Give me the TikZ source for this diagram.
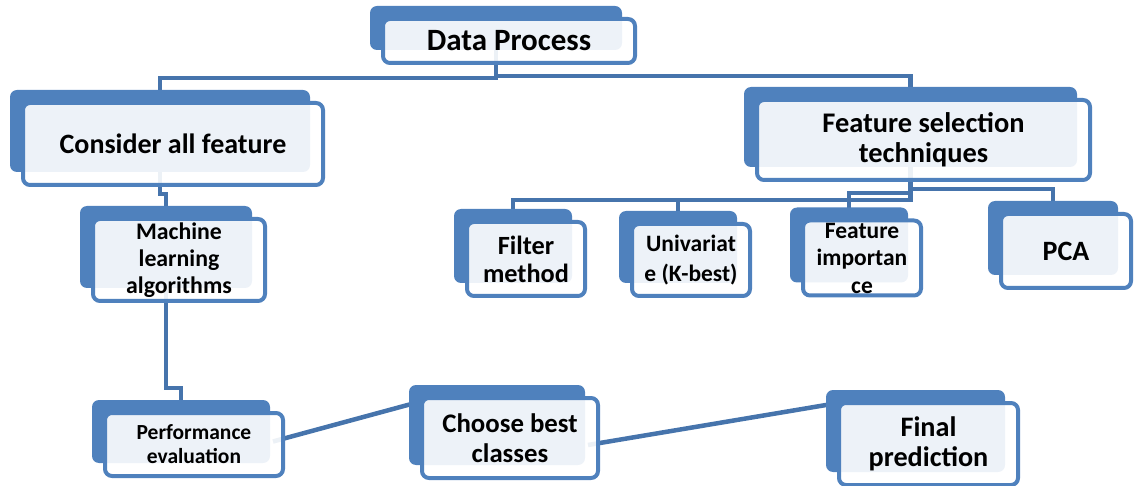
\documentclass[tikz,border=0pt]{standalone}
\usepackage{fontspec}
\setmainfont{Carlito}
\usepackage{tikz}
\usetikzlibrary{positioning,shadows,backgrounds}
\definecolor{boxblue}{HTML}{4F81BD}
\definecolor{linkblue}{HTML}{4674AC}

\begin{document}
\begin{tikzpicture}[x=1pt,y=-1pt]
	\tikzstyle{procbox}=[rectangle, rounded corners=7pt, draw=boxblue, line width=4pt, fill=white, fill opacity=0.9, text opacity=1, align=center, inner sep=0pt, copy shadow={shadow xshift=-13pt, shadow yshift=13pt, fill=boxblue, draw=none, fill opacity=1}]
	\tikzstyle{link}=[draw=linkblue, line width=4.5pt]
	\useasboundingbox (0,0) rectangle (1135,486);
		% top level
		\node[procbox, minimum width=252pt, minimum height=44pt, font=\fontsize{31}{32}\selectfont\bfseries] (dp) at (509,41) {Data Process};
		\node[procbox, minimum width=300pt, minimum height=82pt, font=\fontsize{28}{30}\selectfont\bfseries] (cons) at (173,144) {Consider all feature};
		\node[procbox, minimum width=333pt, minimum height=80pt, font=\fontsize{28.4}{30.5}\selectfont\bfseries] (fst) at (923.5,140) {Feature selection\\techniques};
		% left branch
		\node[procbox, minimum width=172pt, minimum height=82pt, font=\fontsize{23.8}{27}\selectfont\bfseries] (mla) at (179,260) {Machine\\learning\\algorithms};
		\node[procbox, minimum width=178pt, minimum height=63pt, font=\fontsize{21.5}{24}\selectfont\bfseries] (perf) at (194,444.5) {Performance\\evaluation};
		% selection techniques
		\node[procbox, minimum width=118pt, minimum height=74pt, font=\fontsize{26.3}{28}\selectfont\bfseries] (filter) at (526,259) {Filter\\method};
		\node[procbox, minimum width=118pt, minimum height=72pt, font=\fontsize{23.5}{30}\selectfont\bfseries] (univ) at (691,260) {Univariat\\e (K-best)};
		\node[procbox, minimum width=118pt, minimum height=75pt, inner ysep=-4pt, font=\fontsize{23.5}{27.5}\selectfont\bfseries] (featimp) at (862,258) {Feature\\importan\\ce};
		\node[procbox, minimum width=130pt, minimum height=74pt, font=\fontsize{28}{30}\selectfont\bfseries] (pca) at (1066,251) {PCA};
		% bottom row
		\node[procbox, minimum width=176pt, minimum height=80pt, font=\fontsize{26.8}{30}\selectfont\bfseries] (choose) at (510,438) {Choose best\\classes};
		\node[procbox, minimum width=179pt, minimum height=82pt, font=\fontsize{28.2}{30}\selectfont\bfseries] (final) at (928.5,444) {Final\\prediction};
		% centres of the back plates
		\foreach \n in {dp,cons,fst,mla,perf,filter,univ,featimp,pca}
			\coordinate (\n-b) at ([xshift=-13pt,yshift=13pt]\n.center);
		\begin{scope}[on background layer]
			\draw[link] (dp-b) -- ++(0,50) -| (cons-b);
			\draw[link] (dp-b) -- ++(0,48) -| (fst-b);
			\draw[link] (cons-b) -- ++(0,63) -| (mla-b);
			\draw[link] (mla-b) -- ++(0,141) -| (perf-b);
			\draw[link] (fst-b) -- ++(0,73) -| (filter-b);
			\draw[link] (fst-b) -- ++(0,73) -| (univ-b);
			\draw[link] (fst-b) -- ++(0,66) -| (featimp-b);
			\draw[link] (fst-b) -- ++(0,62) -| (pca-b);
			\draw[link] ([xshift=-12pt,yshift=3pt]perf.east) -- ([xshift=-5pt,yshift=35pt]choose.west);
			\draw[link] ([xshift=-12pt,yshift=-7pt]choose.east) -- ([xshift=-5pt,yshift=40pt]final.west);
		\end{scope}
\end{tikzpicture}
\end{document}
